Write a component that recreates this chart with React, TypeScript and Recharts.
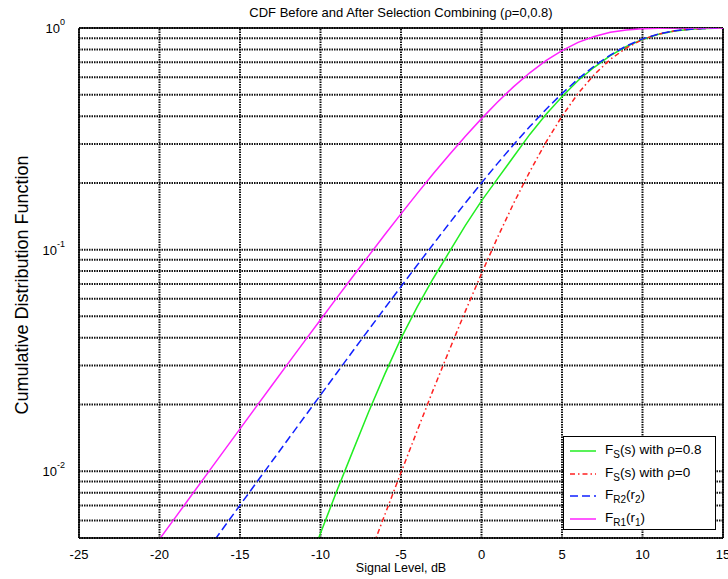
import React from 'react';
import {
  Line,
  LineChart,
  ReferenceLine,
  XAxis,
  YAxis,
} from 'recharts';

// signal level (dB) and CDF values
const xR1 = [-21, -20, -19, -18, -17, -16, -15, -14, -13, -12, -11, -10, -9, -8, -7, -6, -5, -4, -3, -2, -1, 0, 1, 2, 3, 4, 5, 6, 7, 8, 9, 10, 11, 12, 13, 14, 15];
const fR1 = [0.00392, 0.00494, 0.00621, 0.00782, 0.00983, 0.01236, 0.01553, 0.01952, 0.02451, 0.03076, 0.03856, 0.0483, 0.0604, 0.0755, 0.094, 0.117, 0.145, 0.179, 0.22, 0.268, 0.325, 0.39, 0.464, 0.544, 0.628, 0.712, 0.791, 0.861, 0.916, 0.956, 0.98, 0.993, 0.998, 0.9995, 1, 1, 1];

const xR2 = [-17, -16, -15, -14, -13, -12, -11, -10, -9, -8, -7, -6, -5, -4, -3, -2, -1, 0, 1, 2, 3, 4, 5, 6, 7, 8, 9, 10, 11, 12, 13, 14, 15];
const fR2 = [0.00444, 0.00559, 0.00703, 0.00885, 0.01112, 0.01399, 0.01757, 0.02207, 0.0277, 0.0348, 0.0436, 0.0545, 0.0681, 0.085, 0.1058, 0.1314, 0.1625, 0.2, 0.245, 0.298, 0.359, 0.429, 0.506, 0.589, 0.673, 0.755, 0.83, 0.893, 0.94, 0.971, 0.988, 0.996, 1];

const xS8 = [-11, -10, -9, -8, -7, -6, -5, -4, -3, -2, -1, 0, 1, 2, 3, 4, 5, 6, 7, 8, 9, 10, 11, 12, 13, 14, 15];
const fS8 = [0.0034, 0.00525, 0.0081, 0.0123, 0.0186, 0.0275, 0.0398, 0.055, 0.0741, 0.0977, 0.1288, 0.166, 0.209, 0.263, 0.331, 0.407, 0.49, 0.58, 0.665, 0.75, 0.825, 0.888, 0.937, 0.97, 0.987, 0.996, 1];

const xS0 = [-7, -6, -5, -4, -3, -2, -1, 0, 1, 2, 3, 4, 5, 6, 7, 8, 9, 10, 11, 12, 13, 14, 15];
const fS0 = [0.0041, 0.00638, 0.00987, 0.0152, 0.0233, 0.0352, 0.0528, 0.078, 0.1137, 0.162, 0.225, 0.305, 0.4, 0.507, 0.616, 0.722, 0.813, 0.887, 0.938, 0.971, 0.988, 0.996, 1];

const xTicks = [-25, -20, -15, -10, -5, 0, 5, 10, 15];
const yTicks = [0.01, 0.1, 1];
const yExp = ['-2', '-1', '0'];
const yGrid = [
  0.005, 0.006, 0.007, 0.008, 0.009,
  0.01, 0.02, 0.03, 0.04, 0.05, 0.06, 0.07, 0.08, 0.09,
  0.1, 0.2, 0.3, 0.4, 0.5, 0.6, 0.7, 0.8, 0.9, 1,
];

const toPts = (xs: number[], ys: number[]) => xs.map((x, i) => ({ x, y: ys[i] }));

const series = [
  { key: 's8', data: toPts(xS8, fS8), color: '#22ee22', dash: undefined, sub: 'S', rest: '(s) with ρ=0.8' },
  { key: 's0', data: toPts(xS0, fS0), color: '#ff2020', dash: '5 3 1.5 3', sub: 'S', rest: '(s) with ρ=0' },
  { key: 'r2', data: toPts(xR2, fR2), color: '#1020ff', dash: '8 4', sub: 'R2', rest: 'r2' },
  { key: 'r1', data: toPts(xR1, fR1), color: '#ff22ff', dash: undefined, sub: 'R1', rest: 'r1' },
];

const FONT = '"Liberation Sans", Arial, sans-serif';

function YTick(props: any) {
  const { x, y, payload } = props;
  const i = yTicks.indexOf(payload.value);
  return (
    <text x={x - 6} y={y + 5} textAnchor="end" fontSize={13} fill="#000" fontFamily={FONT}>
      10
      <tspan dy={-8} fontSize={9}>{yExp[i]}</tspan>
    </text>
  );
}

function XTick(props: any) {
  const { x, y, payload } = props;
  return (
    <text x={x} y={y + 13} textAnchor="middle" fontSize={13} fill="#000" fontFamily={FONT}>
      {payload.value}
    </text>
  );
}

function LegendBox() {
  const sub = { fontSize: 10, verticalAlign: -4 } as React.CSSProperties;
  return (
    <div
      style={{
        position: 'absolute',
        left: 563,
        top: 436,
        width: 153,
        height: 94,
        border: '1.5px solid #000',
        background: '#fff',
        boxSizing: 'border-box',
        padding: '3px 0 0 6px',
        fontFamily: FONT,
        fontSize: 13.5,
        color: '#000',
      }}
    >
      {series.map((s) => (
        <div key={s.key} style={{ display: 'flex', alignItems: 'center', height: 22.5 }}>
          <svg width={28} height={10} style={{ marginRight: 7 }}>
            <line x1={0} y1={5} x2={26} y2={5} stroke={s.color} strokeWidth={1.5} strokeDasharray={s.dash} />
          </svg>
          <span style={{ whiteSpace: 'nowrap' }}>
            F<span style={sub}>{s.sub}</span>
            {s.key.startsWith('r') ? (
              <>
                (r<span style={sub}>{s.rest.slice(1)}</span>)
              </>
            ) : (
              s.rest
            )}
          </span>
        </div>
      ))}
    </div>
  );
}

export default function App() {
  return (
    <div style={{ position: 'relative', width: 728, height: 579, background: '#fff', fontFamily: FONT }}>
      <style>{'body{margin:0}'}</style>
      <div style={{ position: 'absolute', top: 5, left: 79, width: 644, textAlign: 'center', fontSize: 13 }}>
        CDF Before and After Selection Combining (ρ=0,0.8)
      </div>
      <div style={{ position: 'absolute', top: 561, left: 79, width: 644, textAlign: 'center', fontSize: 12.5 }}>
        Signal Level, dB
      </div>
      <div
        style={{
          position: 'absolute',
          left: 22,
          top: 285,
          transform: 'translate(-50%, -50%) rotate(-90deg)',
          whiteSpace: 'nowrap',
          fontSize: 18,
        }}
      >
        Cumulative Distribution Function
      </div>
      <LineChart width={728} height={579} margin={{ top: 28, right: 5, bottom: 21, left: 0 }}>
        <XAxis
          type="number"
          dataKey="x"
          domain={[-25, 15]}
          ticks={xTicks}
          interval={0}
          allowDataOverflow
          height={20}
          tick={<XTick />}
          tickLine={false}
          axisLine={{ stroke: '#000', strokeWidth: 1.5 }}
        />
        <YAxis
          type="number"
          dataKey="y"
          scale="log"
          domain={[0.005, 1]}
          ticks={yTicks}
          interval={0}
          allowDataOverflow
          width={79}
          tick={<YTick />}
          tickLine={false}
          axisLine={{ stroke: '#000', strokeWidth: 1.5 }}
        />
        {xTicks.map((v) => (
          <ReferenceLine key={'vx' + v} x={v} stroke="#111" strokeWidth={2} strokeDasharray="1.5 1" />
        ))}
        {yGrid.map((v) => (
          <ReferenceLine key={'hy' + v} y={v} stroke="#111" strokeWidth={2} strokeDasharray="1.5 1" />
        ))}
        <ReferenceLine x={15} stroke="#000" strokeWidth={1.5} />
        <ReferenceLine y={1} stroke="#000" strokeWidth={1.5} />
        {series.map((s) => (
          <Line
            key={s.key}
            data={s.data}
            dataKey="y"
            type="linear"
            stroke={s.color}
            strokeWidth={1.5}
            strokeDasharray={s.dash}
            dot={false}
            isAnimationActive={false}
          />
        ))}
      </LineChart>
      <LegendBox />
    </div>
  );
}
